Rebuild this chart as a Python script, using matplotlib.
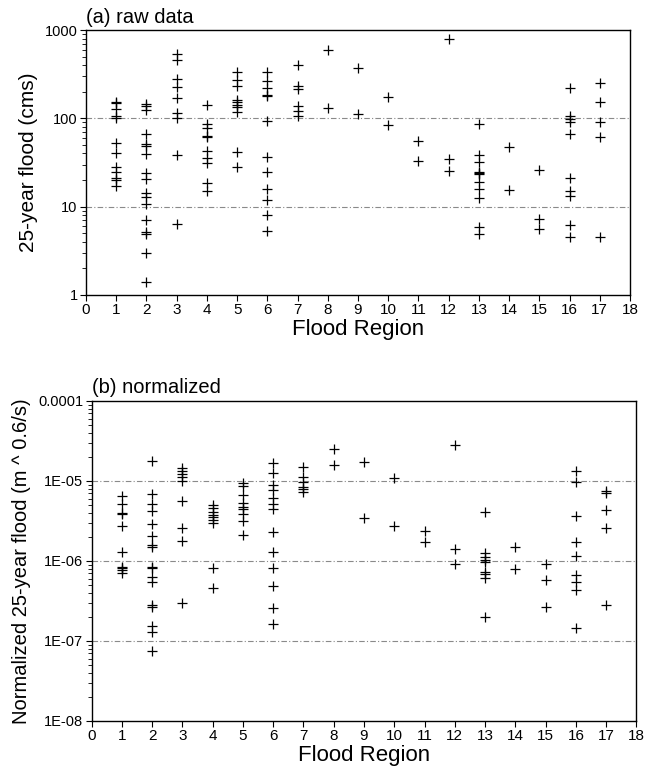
import matplotlib
matplotlib.use("Agg")
import matplotlib.pyplot as plt
from matplotlib.ticker import LogLocator, FixedLocator, NullFormatter

plt.rcParams['font.family'] = ['Liberation Sans', 'DejaVu Sans']

# flood regions 1..17
regions = list(range(1, 18))

# (a) 25-year flood, cms per region
raw_flood = [
    [155, 148, 126, 106, 102, 52, 41, 28, 25, 21, 20, 17],
    [144, 138, 124, 66.5, 51, 49, 39.5, 23.8, 20.6, 14.4, 13, 10.7, 7.1, 5.1, 4.9, 3.0, 1.42],
    [535, 457, 277, 225, 168, 116, 100, 38.5, 6.3],
    [140, 86, 77, 63, 61, 42.6, 35.2, 31.5, 18.4, 15],
    [338, 272, 232, 161, 152, 142, 133, 119, 41.6, 27.9],
    [338, 265, 223, 184, 179, 94, 36.8, 24.9, 15.8, 11.9, 8.05, 5.35],
    [402, 232, 213, 138, 121, 106],
    [594, 132],
    [368, 111],
    [176, 84],
    [55, 32.9],
    [783, 34.9, 25.6],
    [85.5, 38.5, 32.3, 24.5, 23.8, 23.3, 19.2, 16, 12.4, 5.94, 4.86],
    [47.3, 15.5],
    [26, 7.3, 5.59],
    [219, 106, 98, 91, 66, 21, 15.2, 13.1, 6.26, 4.5],
    [254, 152, 91, 62, 4.57],
]

# (b) normalized 25-year flood, m^0.6/s
norm_flood = [
    [6.5e-6, 5.1e-6, 4.0e-6, 3.9e-6, 2.73e-6, 1.28e-6, 8.5e-7, 8.1e-7, 7.7e-7, 7.15e-7],
    [1.79e-5, 6.9e-6, 5.1e-6, 4.2e-6, 2.9e-6, 2.07e-6, 1.58e-6, 1.48e-6, 8.5e-7, 8.1e-7,
     6.4e-7, 5.5e-7, 2.83e-7, 2.69e-7, 1.55e-7, 1.28e-7, 7.4e-8],
    [1.47e-5, 1.34e-5, 1.22e-5, 1.11e-5, 9.95e-6, 5.6e-6, 2.55e-6, 1.79e-6, 2.96e-7],
    [5.0e-6, 4.54e-6, 4.12e-6, 3.75e-6, 3.5e-6, 3.25e-6, 2.95e-6, 8.1e-7, 4.65e-7],
    [9.5e-6, 8.6e-6, 6.7e-6, 5.35e-6, 4.67e-6, 4.5e-6, 3.86e-6, 3.19e-6, 2.09e-6],
    [1.70e-5, 1.27e-5, 9.0e-6, 7.8e-6, 6.2e-6, 5.1e-6, 4.45e-6, 2.32e-6, 1.28e-6, 8.1e-7,
     4.9e-7, 2.62e-7, 1.64e-7],
    [1.50e-5, 1.11e-5, 9.8e-6, 8.45e-6, 8.0e-6, 7.2e-6],
    [2.49e-5, 1.58e-5],
    [1.73e-5, 3.47e-6],
    [1.10e-5, 2.73e-6],
    [2.39e-6, 1.74e-6],
    [2.85e-5, 1.41e-6, 9.2e-7],
    [4.05e-6, 1.25e-6, 1.13e-6, 1.03e-6, 9.7e-7, 7.2e-7, 6.9e-7, 6.2e-7, 1.98e-7],
    [1.48e-6, 7.9e-7],
    [9.2e-7, 5.8e-7, 2.67e-7],
    [1.33e-5, 9.6e-6, 3.67e-6, 1.71e-6, 1.15e-6, 6.6e-7, 5.4e-7, 4.35e-7, 1.47e-7],
    [7.5e-6, 7.0e-6, 4.37e-6, 2.61e-6, 2.83e-7],
]

W, H = 645, 768
fig = plt.figure(figsize=(W / 100, H / 100), dpi=100)

ax_a = fig.add_axes([86 / W, 1 - 295 / H, 544 / W, 265 / H])
ax_b = fig.add_axes([91.5 / W, 1 - 721 / H, 545 / W, 320 / H])


def draw_panel(ax, data, ylim, ticklabels, ylabel, title, ysize):
    for reg, vals in zip(regions, data):
        ax.plot([reg] * len(vals), vals, linestyle='none', marker='+',
                color='black', markersize=7, markeredgewidth=0.9)
    ax.set_yscale('log')
    ax.set_ylim(ylim)
    ax.set_xlim(0, 18)
    ax.set_xticks(range(0, 19))
    ax.set_xticklabels([str(i) for i in range(0, 19)], fontsize=11)
    # one major tick per decade
    majors = [ylim[0] * 10.0 ** k for k in range(len(ticklabels))]
    ax.yaxis.set_major_locator(FixedLocator(majors))
    ax.set_yticklabels(ticklabels, fontsize=10.5)
    ax.yaxis.set_minor_locator(LogLocator(base=10, subs=range(2, 10)))
    ax.yaxis.set_minor_formatter(NullFormatter())
    for m in majors[1:-1]:
        ax.axhline(m, color='#8a8a8a', linewidth=0.8, linestyle=(0, (5, 2, 1, 2)), zorder=0)
    ax.tick_params(axis='both', which='major', direction='out', length=4, width=0.8, pad=2)
    ax.tick_params(axis='y', which='minor', direction='out', length=3, width=0.6)
    for s in ax.spines.values():
        s.set_linewidth(1.0)
    ax.set_xlabel('Flood Region', fontsize=16, labelpad=1)
    ax.set_ylabel(ylabel, fontsize=ysize, labelpad=5)
    ax.text(0.0, 1.012, title, transform=ax.transAxes, fontsize=14.5,
            ha='left', va='bottom')


draw_panel(ax_a, raw_flood, (1, 1000), ['1', '10', '100', '1000'],
           '25-year flood (cms)', '(a) raw data', 15)
draw_panel(ax_b, norm_flood, (1e-8, 1e-4),
           ['1E-08', '1E-07', '1E-06', '1E-05', '0.0001'],
           'Normalized 25-year flood (m ^ 0.6/s)', '(b) normalized', 14.5)

fig.savefig('out.png', dpi=100)
